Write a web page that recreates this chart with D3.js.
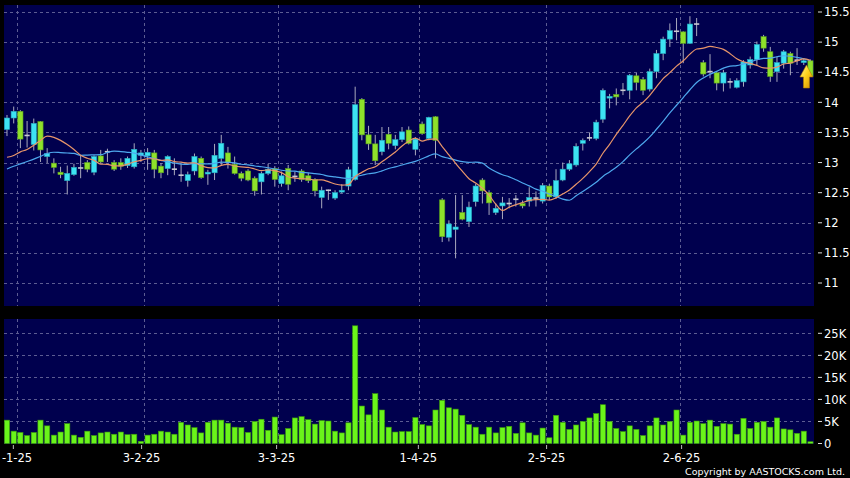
<!DOCTYPE html>
<html><head><meta charset="utf-8">
<script src="https://cdn.jsdelivr.net/npm/d3@7"></script>
<style>html,body{margin:0;padding:0;background:#000;}svg{display:block;}</style>
</head><body><svg id="chart" width="850" height="478"></svg>
<script>
// ---------- data ----------
const dateLabels = ["2-1-25","3-2-25","3-3-25","1-4-25","2-5-25","2-6-25"];
const dateIndex  = [1, 20, 40, 61, 80, 100];

const opens = [13.55,13.74,13.85,13.45,13.30,13.68,13.10,12.99,12.84,12.70,
12.80,12.91,13.00,12.84,13.11,13.18,13.00,13.00,12.95,12.93,
13.12,13.11,13.16,12.94,12.90,12.89,12.79,12.70,12.86,13.07,
12.81,12.83,13.07,13.16,12.97,12.82,12.86,12.74,12.68,12.82,
12.90,12.65,12.90,12.77,12.86,12.78,12.72,12.42,12.54,12.41,
12.51,12.61,12.72,14.05,13.46,13.31,13.18,13.47,13.28,13.38,
13.54,13.22,13.64,13.40,13.76,12.38,11.76,11.89,12.17,12.02,
12.35,12.71,12.50,12.17,12.28,12.32,12.39,12.32,12.36,12.41,
12.36,12.61,12.43,12.71,12.89,12.96,13.32,13.41,13.40,13.72,
14.07,14.13,14.20,14.20,14.44,14.38,14.22,14.51,14.81,15.05,
15.18,15.17,14.98,15.30,14.66,14.51,14.49,14.32,14.34,14.25,
14.34,14.62,14.71,15.09,14.84,14.51,14.65,14.81,14.70,14.66,
14.69];
const highs = [13.79,13.93,13.87,13.69,13.73,13.69,13.24,13.07,12.93,12.95,
12.98,13.12,13.04,13.12,13.21,13.23,13.04,13.07,13.10,13.32,
13.21,13.24,13.21,12.99,13.12,13.07,12.99,12.85,13.15,13.10,
12.88,13.31,13.46,13.26,13.10,12.85,12.89,12.77,12.85,12.98,
12.94,12.85,12.96,12.85,12.89,12.83,12.74,12.60,12.55,12.54,
12.64,12.93,14.26,14.07,13.61,13.46,13.59,13.59,13.46,13.59,
13.60,13.42,13.68,13.76,13.77,12.41,12.04,12.46,12.46,12.35,
12.65,12.74,12.54,12.32,12.43,12.41,12.46,12.37,12.59,12.52,
12.66,12.65,12.89,13.00,13.04,13.32,13.40,13.50,13.71,14.23,
14.14,14.23,14.32,14.47,14.49,14.42,14.56,14.87,15.09,15.31,
15.40,15.18,15.43,15.40,14.70,14.80,14.52,14.54,14.40,14.40,
14.70,14.76,15.01,15.12,14.92,14.76,14.87,14.84,14.90,14.73,
14.71];
const lows = [13.44,13.65,13.24,13.25,13.20,13.01,12.99,12.82,12.74,12.47,
12.78,12.74,12.84,12.79,12.99,13.01,12.86,12.88,12.91,12.90,
13.01,12.88,12.74,12.74,12.79,12.79,12.68,12.60,12.79,12.73,
12.63,12.71,12.96,12.90,12.80,12.69,12.69,12.45,12.47,12.79,
12.60,12.60,12.54,12.68,12.68,12.66,12.44,12.24,12.38,12.38,
12.49,12.54,12.70,13.37,13.21,12.96,13.12,13.22,13.22,13.34,
13.30,13.12,13.46,13.37,13.07,11.68,11.69,11.41,12.04,11.93,
12.27,12.32,12.13,12.13,12.06,12.24,12.27,12.24,12.27,12.27,
12.32,12.38,12.40,12.69,12.86,12.93,13.20,13.36,13.37,13.66,
13.90,13.95,14.12,14.05,14.20,14.12,14.18,14.40,14.70,14.92,
15.03,14.65,14.97,15.10,14.43,14.40,14.20,14.18,14.23,14.23,
14.26,14.56,14.62,14.84,14.34,14.34,14.56,14.45,14.62,14.62,
14.43];
const closes = [13.74,13.85,13.39,13.45,13.65,13.21,13.15,12.92,12.80,12.82,
12.92,12.91,12.89,13.10,13.01,13.18,12.89,12.94,13.07,13.22,
13.16,13.17,12.89,12.83,13.10,12.89,12.79,12.80,13.10,12.75,
12.84,13.12,13.32,13.00,12.82,12.74,12.71,12.53,12.82,12.89,
12.72,12.78,12.64,12.77,12.72,12.70,12.53,12.54,12.54,12.50,
12.54,12.88,13.96,13.46,13.31,13.03,13.37,13.32,13.38,13.51,
13.32,13.39,13.48,13.75,13.37,11.77,11.98,11.93,12.06,12.26,
12.61,12.53,12.33,12.24,12.33,12.32,12.39,12.28,12.42,12.41,
12.62,12.43,12.70,12.89,12.98,13.27,13.37,13.41,13.67,14.20,
14.10,14.09,14.20,14.45,14.33,14.20,14.51,14.81,15.05,15.19,
15.18,14.98,15.30,15.30,14.47,14.51,14.32,14.49,14.34,14.36,
14.67,14.71,14.96,14.90,14.43,14.66,14.84,14.65,14.70,14.69,
14.43];
// closes before the first visible day (needed for the moving averages)
const priorCloses = [12.95,12.60,12.65,12.85,12.30,12.20,12.50,12.93,12.95,13.05,
13.55,12.79,13.05,12.95,12.41,12.45,13.12,13.30,13.52];
const volumes = [5300,2800,2500,1800,2500,5300,4000,1900,2600,4500,
1900,1400,2800,1800,2400,2600,2100,2600,2000,2100,
500,1900,2100,2800,2600,2100,4800,4200,3600,2400,
4800,5300,5300,4600,3700,3600,2500,5000,5500,3000,
6000,2000,3400,5800,6100,5400,4400,5200,5100,2800,
2400,4700,26700,8500,6500,11300,7600,3700,2600,2700,
2700,5900,4300,4000,7600,9800,8100,7800,6400,4300,
3700,2100,3700,2400,3600,3900,2300,4700,2400,1900,
3500,1300,6400,4800,3200,4200,5000,5800,6800,8800,
5000,3400,2700,4000,3200,1800,4000,5800,4200,5000,
7600,1900,4800,5100,4500,5300,3900,4500,4400,2100,
5700,3400,4800,5000,3700,5800,3300,3100,2300,2800,
400];
const priceTicks = [11, 11.5, 12, 12.5, 13, 13.5, 14, 14.5, 15, 15.5];
const volumeTicks = [0, 5000, 10000, 15000, 20000, 25000];
const volumeTickLabels = ["0","5K","10K","15K","20K","25K"];
const maShort = 10, maLong = 20;

// ---------- styles ----------
const C = {
  panel: "#00004e", grid: "#5c5c92", up: "#3de3f2", upEdge: "#26a9bd",
  down: "#8fe12b", downEdge: "#5aa31c", wick: "#a9a9bd", doji: "#c9c9d2",
  ma10: "#e8956a", ma20: "#4ea8ee", vol: "#6af41a", volEdge: "#3c9a0c", text: "#ffffff"
};
const font = "'DejaVu Sans', Verdana, sans-serif";

// ---------- layout ----------
const L = { left: 4, right: 814, pTop: 5, pBot: 306, vTop: 319, vBot: 444 };
const svg = d3.select("#chart");
svg.append("rect").attr("width", 850).attr("height", 478).attr("fill", "#000");

const n = closes.length;
const x = d3.scaleBand().domain(d3.range(n)).range([3.65, 813.8]).padding(0);
const bw = x.bandwidth();
const cx = i => x(i) + bw / 2;
const xTick = d3.scaleLinear().domain([0, 120]).range([6.6, 816.6]);
const yP = d3.scaleLinear().domain([11, 15.5]).range([283, 12]);
const yV = d3.scaleLinear().domain([0, 25000]).range([443.5, 333.3]);

// panels
svg.append("rect").attr("x", L.left).attr("y", L.pTop).attr("width", L.right - L.left).attr("height", L.pBot - L.pTop).attr("fill", C.panel);
svg.append("rect").attr("x", L.left).attr("y", L.vTop).attr("width", L.right - L.left).attr("height", L.vBot - L.vTop).attr("fill", C.panel);

const grid = svg.append("g").attr("stroke", C.grid).attr("stroke-width", 1).attr("stroke-dasharray", "3,3").attr("fill", "none");
priceTicks.forEach(p => grid.append("line").attr("x1", L.left).attr("x2", L.right).attr("y1", Math.round(yP(p)) + 0.5).attr("y2", Math.round(yP(p)) + 0.5));
volumeTicks.filter(v => v > 0).forEach(v => grid.append("line").attr("x1", L.left).attr("x2", L.right).attr("y1", Math.round(yV(v)) + 0.5).attr("y2", Math.round(yV(v)) + 0.5));
dateIndex.forEach(i => {
  const gx = Math.round(x(i) + bw) + 0.5;
  grid.append("line").attr("x1", gx).attr("x2", gx).attr("y1", L.pTop).attr("y2", L.pBot);
  grid.append("line").attr("x1", gx).attr("x2", gx).attr("y1", L.vTop).attr("y2", L.vBot);
});

// ---------- candles ----------
const data = d3.range(n).map(i => ({ i, o: opens[i], h: highs[i], l: lows[i], c: closes[i], v: volumes[i] }));
const bodyW = 5.2;
const cg = svg.append("g");
cg.selectAll("line.wick").data(data).join("line")
  .attr("x1", d => cx(d.i)).attr("x2", d => cx(d.i))
  .attr("y1", d => yP(d.h)).attr("y2", d => yP(d.l))
  .attr("stroke", C.wick).attr("stroke-width", 1);
cg.selectAll("rect.body").data(data.filter(d => d.o !== d.c)).join("rect")
  .attr("x", d => cx(d.i) - bodyW / 2)
  .attr("width", bodyW)
  .attr("y", d => yP(Math.max(d.o, d.c)))
  .attr("height", d => Math.max(1.5, Math.abs(yP(d.o) - yP(d.c))))
  .attr("fill", d => d.c > d.o ? C.up : C.down)
  .attr("stroke", d => d.c > d.o ? C.upEdge : C.downEdge).attr("stroke-width", 0.6);
cg.selectAll("line.doji").data(data.filter(d => d.o === d.c)).join("line")
  .attr("x1", d => cx(d.i) - bodyW / 2).attr("x2", d => cx(d.i) + bodyW / 2)
  .attr("y1", d => yP(d.c)).attr("y2", d => yP(d.c))
  .attr("stroke", C.doji).attr("stroke-width", 1.6);

// ---------- moving averages ----------
const all = priorCloses.concat(closes);
const off = priorCloses.length;
function sma(k) {
  return d3.range(n).map(i => {
    const j = i + off;
    return { i, v: d3.mean(all.slice(j - k + 1, j + 1)) };
  });
}
const line = d3.line().x(d => cx(d.i)).y(d => yP(d.v)).curve(d3.curveMonotoneX);
svg.append("path").attr("d", line(sma(maLong))).attr("fill", "none").attr("stroke", C.ma20).attr("stroke-width", 1.2);
svg.append("path").attr("d", line(sma(maShort))).attr("fill", "none").attr("stroke", C.ma10).attr("stroke-width", 1.2);

// ---------- arrow marker on last bar ----------
const defs = svg.append("defs");
const gr = defs.append("linearGradient").attr("id", "arw").attr("x1", 0).attr("y1", 0).attr("x2", 1).attr("y2", 1);
gr.append("stop").attr("offset", "0%").attr("stop-color", "#fff6a0");
gr.append("stop").attr("offset", "45%").attr("stop-color", "#ffd21c");
gr.append("stop").attr("offset", "100%").attr("stop-color", "#d08a00");
defs.append("clipPath").attr("id", "labelClip").append("rect").attr("x", 1.8).attr("y", 440).attr("width", 848).attr("height", 38);
const last = data[n - 1];
const ax = cx(last.i) - 4, at = yP(last.c + 0.19);
svg.append("path")
  .attr("d", `M${ax},${at} L${ax + 6.5},${at + 12} L${ax + 3},${at + 12} L${ax + 3},${at + 23} L${ax - 3},${at + 23} L${ax - 3},${at + 12} L${ax - 6.5},${at + 12} Z`)
  .attr("fill", "url(#arw)").attr("stroke", "#b07a00").attr("stroke-width", 0.6);

// ---------- volume ----------
svg.append("g").selectAll("rect").data(data).join("rect")
  .attr("x", d => cx(d.i) - bodyW / 2).attr("width", bodyW)
  .attr("y", d => yV(d.v)).attr("height", d => yV(0) - yV(d.v))
  .attr("fill", C.vol).attr("stroke", C.volEdge).attr("stroke-width", 0.6);

// ---------- axes text ----------
const tg = svg.append("g").attr("fill", C.text).attr("font-family", font);
priceTicks.forEach(p => {
  const y = yP(p);
  svg.append("line").attr("x1", 818).attr("x2", 822).attr("y1", y).attr("y2", y).attr("stroke", "#ddd");
  tg.append("text").attr("x", 824).attr("y", y + 4.2).attr("font-size", 11.5).text(p);
});
volumeTicks.forEach((v, k) => {
  const y = yV(v);
  svg.append("line").attr("x1", 818).attr("x2", 822).attr("y1", y).attr("y2", y).attr("stroke", "#ddd");
  tg.append("text").attr("x", 824).attr("y", y + 4.2).attr("font-size", 11.5).text(volumeTickLabels[k]);
});
const dg = tg.append("g").attr("clip-path", "url(#labelClip)");
dateIndex.forEach((i, k) => {
  const tx = xTick(i);
  svg.append("line").attr("x1", tx).attr("x2", tx).attr("y1", 445).attr("y2", 449).attr("stroke", "#bbb");
  dg.append("text").attr("x", tx).attr("y", 462).attr("text-anchor", "middle").attr("font-size", 11.5).text(dateLabels[k]);
});
tg.append("text").attr("x", 845).attr("y", 475).attr("text-anchor", "end").attr("font-size", 9.5).text("Copyright by AASTOCKS.com Ltd.");
</script>
</body></html>
